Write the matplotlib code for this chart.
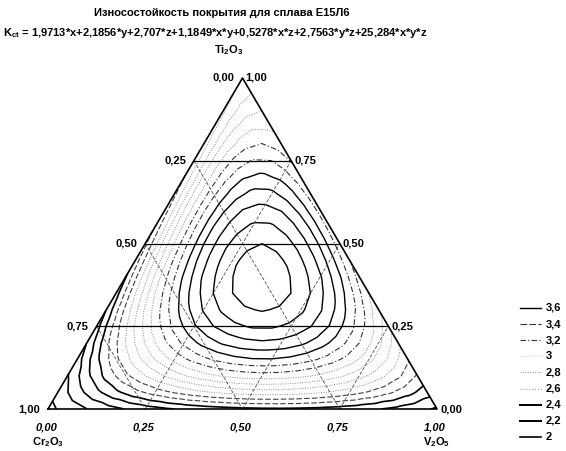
import numpy as np
import matplotlib
matplotlib.use("Agg")
import matplotlib.pyplot as plt
import matplotlib.tri as mtri
from matplotlib.lines import Line2D

plt.rcParams['font.family'] = ['Liberation Sans', 'DejaVu Sans']
plt.rcParams['mathtext.fontset'] = 'custom'
plt.rcParams['mathtext.rm'] = 'Liberation Sans'

# model K = b1*x + b2*y + b3*z + b12*x*y + b13*x*z + b23*y*z + b123*x*y*z
# x = Cr2O3, y = V2O5, z = Ti2O3
coefs = [1.9713, 2.1856, 2.707, 1.1849, 0.5278, 2.7563, 25.284]
levels = [2.0, 2.1, 2.2, 2.3, 2.4, 2.5, 2.6, 2.7, 2.8, 2.9, 3.0, 3.1, 3.2, 3.3, 3.4, 3.5, 3.6, 3.7]
legend_labels = ['3,6', '3,4', '3,2', '3', '2,8', '2,6', '2,4', '2,2', '2']
# legend line looks, as printed in the scan
legend_styles = [
    dict(color='black', lw=1.0, ls='-'),
    dict(color='0.2', lw=0.8, ls=(0, (6, 2))),
    dict(color='0.2', lw=0.8, ls=(0, (5, 2, 1, 2))),
    dict(color='0.75', lw=0.6, ls=(0, (1, 3))),
    dict(color='0.55', lw=0.7, ls=(0, (1, 1.5))),
    dict(color='0.55', lw=0.7, ls=(0, (1, 2))),
    dict(color='black', lw=1.4, ls='-'),
    dict(color='black', lw=1.4, ls='-'),
    dict(color='black', lw=1.2, ls='-'),
]
ticks = [0.0, 0.25, 0.5, 0.75, 1.0]
tick_labels = ['0,00', '0,25', '0,50', '0,75', '1,00']


def style_for(v):
    # rough imitation of the scanned line styles
    if v <= 2.45:
        return dict(color='black', lw=1.2, ls='-')
    if v <= 2.65:
        return dict(color='0.25', lw=0.8, ls=(0, (5, 2)))
    if v <= 3.05:
        return dict(color='0.55', lw=0.7, ls=(0, (1, 1.5)))
    if v <= 3.25:
        return dict(color='0.2', lw=0.8, ls=(0, (5, 2, 1, 2)))
    return dict(color='black', lw=1.0, ls='-')


H = np.sqrt(3) / 2


def to_xy(v2o5, ti2o3):
    return v2o5 + ti2o3 / 2, ti2o3 * H


fig = plt.figure(figsize=(5.66, 4.51), dpi=100)
ax = fig.add_axes([48 / 566, 42 / 451, 389 / 566, 331 / 451])
ax.set_xlim(0, 1)
ax.set_ylim(0, H)
ax.axis('off')

# grid of compositions
n = 20
pts = []
for i in range(n + 1):
    for j in range(n + 1 - i):
        pts.append((i / n, j / n))
pts = np.array(pts)
yv = pts[:, 0]
zt = pts[:, 1]
xc = 1 - yv - zt
b1, b2, b3, b12, b13, b23, b123 = coefs
K = (b1 * xc + b2 * yv + b3 * zt + b12 * xc * yv + b13 * xc * zt
     + b23 * yv * zt + b123 * xc * yv * zt)
X, Y = to_xy(yv, zt)
tri = mtri.Triangulation(X, Y)

for lv in levels:
    st = style_for(lv)
    ax.tricontour(tri, K, levels=[lv], colors=st['color'],
                  linewidths=st['lw'], linestyles=[st['ls']])

# grid lines
for t in [0.25, 0.5, 0.75]:
    x0, y0 = to_xy(0, t)
    x1, y1 = to_xy(1 - t, t)
    ax.plot([x0, x1], [y0, y1], color='black', lw=0.9)
    # Cr2O3 = t
    x0, y0 = to_xy(0, 1 - t)
    x1, y1 = to_xy(1 - t, 0)
    ax.plot([x0, x1], [y0, y1], color='0.3', lw=0.6, ls=(0, (4, 2)))
    # V2O5 = t
    x0, y0 = to_xy(t, 0)
    x1, y1 = to_xy(t, 1 - t)
    ax.plot([x0, x1], [y0, y1], color='0.3', lw=0.6, ls=(0, (4, 2)))

ax.plot([0, 1, 0.5, 0], [0, 0, H, 0], color='black', lw=1.2, clip_on=False)

fs = 8
# left side: Cr2O3 fraction
for t, lab in zip(ticks, tick_labels):
    x, y = to_xy(0, 1 - t)
    ax.text(x - 0.02, y, lab, ha='right', va='center', fontsize=fs, fontweight='bold')
# right side: Ti2O3 fraction
for t, lab in zip(ticks, tick_labels):
    x, y = to_xy(1 - t, t)
    ax.text(x + 0.008, y, lab, ha='left', va='center', fontsize=fs, fontweight='bold')
# bottom: V2O5 fraction
for t, lab in zip(ticks, tick_labels):
    ax.text(t - 0.005, -0.035, lab, ha='center', va='top', fontsize=fs,
            fontweight='bold', fontstyle='italic')

ax.text(0.0, -0.086, r'$\mathregular{Cr_2O_3}$', ha='center', va='center', fontsize=fs, fontweight='bold')
ax.text(1.0, -0.086, r'$\mathregular{V_2O_5}$', ha='center', va='center', fontsize=fs, fontweight='bold')
ax.text(0.5 - 0.035, H + 0.055, r'$\mathregular{Ti_2O_3}$', ha='center', va='bottom', fontsize=fs, fontweight='bold')

fig.text(222 / 566, 1 - 13 / 451, 'Износостойкость покрытия для сплава Е15Л6',
         ha='center', va='center', fontsize=8, fontweight='bold')
fig.text(3 / 566, 1 - 33 / 451,
         r'$\mathregular{K_{ct}}$ = 1,9713*x+2,1856*y+2,707*z+1,1849*x*y+0,5278*x*z+2,7563*y*z+25,284*x*y*z',
         ha='left', va='center', fontsize=8, fontweight='bold')

# legend
for k, (lab, st) in enumerate(zip(legend_labels, legend_styles)):
    yy = 1 - (308 + 16.1 * k) / 451
    fig.add_artist(Line2D([520 / 566, 541 / 566], [yy, yy], color=st['color'],
                          lw=st['lw'], ls=st['ls']))
    fig.text(546 / 566, yy, lab, ha='left', va='center', fontsize=fs, fontweight='bold')

fig.savefig('out.png', dpi=100)
